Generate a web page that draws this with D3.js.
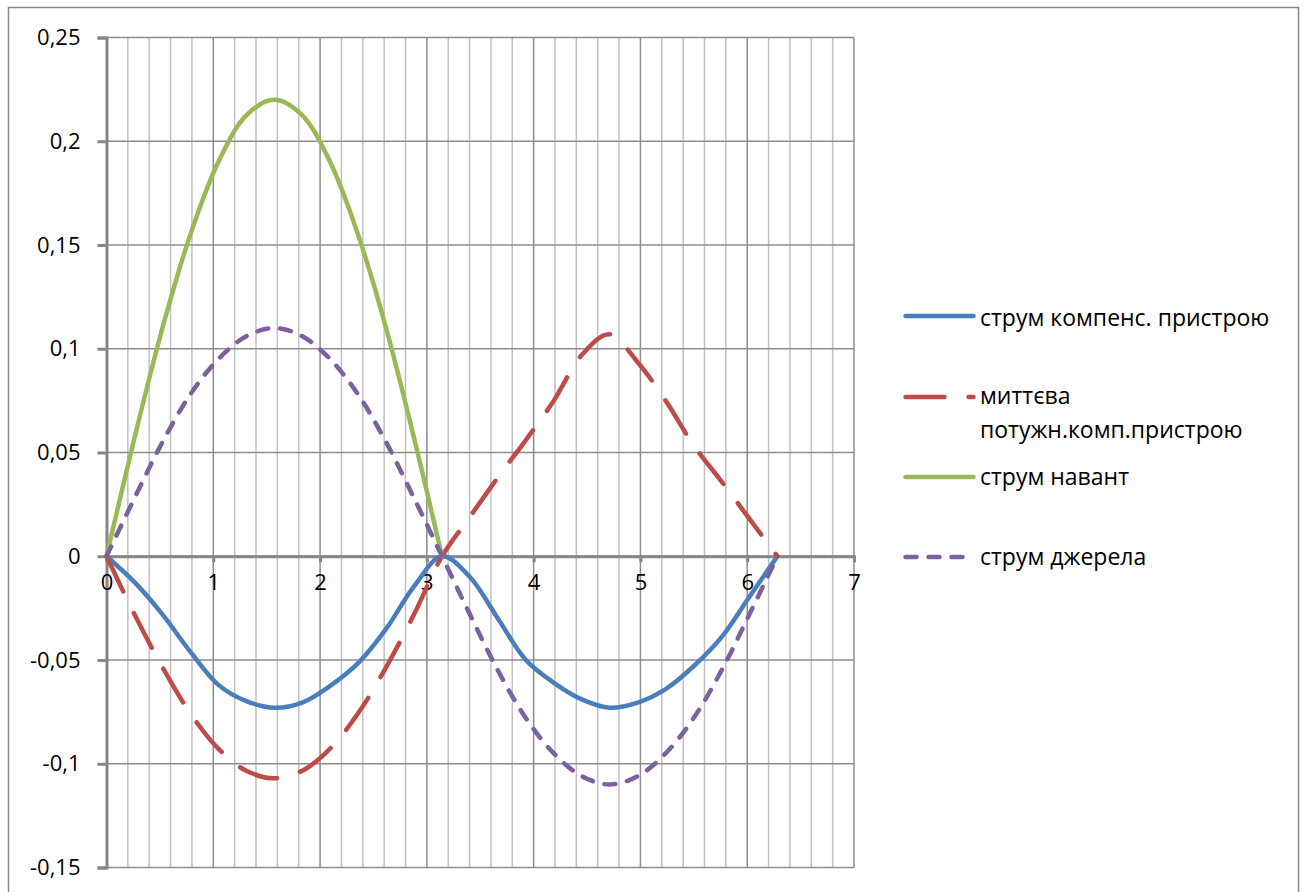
<!DOCTYPE html>
<html>
<head>
<meta charset="utf-8">
<script src="https://cdn.jsdelivr.net/npm/d3@7"></script>
<style>
  html, body { margin: 0; padding: 0; background: #fff; }
  svg { display: block; }
  text { font-family: "Open Sans", "Noto Sans", sans-serif; fill: #000; }
</style>
</head>
<body>
<svg id="chart" width="1306" height="892"></svg>
<script>
// Phase angle samples (rad)
const phase = [0, 0.262, 0.524, 0.785, 1.047, 1.309, 1.571, 1.833, 2.094, 2.356, 2.618, 2.880, 3.142,
               3.403, 3.665, 3.927, 4.189, 4.451, 4.712, 4.974, 5.236, 5.498, 5.760, 6.021, 6.283];

// струм компенс. пристрою
const compCurrent = [0, -0.0125, -0.028, -0.046, -0.062, -0.0698, -0.073, -0.0705, -0.0625, -0.0515, -0.035, -0.0145, 0,
                     -0.010, -0.030, -0.050, -0.061, -0.069, -0.073, -0.0705, -0.064, -0.053, -0.039, -0.0195, 0];
// миттєва потужн.комп.пристрою
const compPower = [0, -0.028, -0.0535, -0.0757, -0.0927, -0.1034, -0.107, -0.1034, -0.0927, -0.0757, -0.0535, -0.028, 0,
                   0.019, 0.038, 0.056, 0.075, 0.097, 0.107, 0.0935, 0.075, 0.0535, 0.036, 0.018, 0];
// струм навант (first half-period only)
const loadCurrent = [0, 0.057, 0.110, 0.155, 0.190, 0.2125, 0.220, 0.2125, 0.190, 0.155, 0.110, 0.057, 0];
// струм джерела
const sourceCurrent = [0, 0.028, 0.055, 0.078, 0.095, 0.106, 0.110, 0.106, 0.095, 0.078, 0.055, 0.028, 0,
                       -0.028, -0.055, -0.078, -0.095, -0.106, -0.110, -0.106, -0.095, -0.078, -0.055, -0.028, 0];

const seriesNames = ["струм компенс. пристрою", "миттєва потужн.комп.пристрою", "струм навант", "струм джерела"];
const xTicks = [0, 1, 2, 3, 4, 5, 6, 7];
const yTicks = [-0.15, -0.1, -0.05, 0, 0.05, 0.1, 0.15, 0.2, 0.25];
const yTickLabels = ["-0,15", "-0,1", "-0,05", "0", "0,05", "0,1", "0,15", "0,2", "0,25"];

const svg = d3.select("#chart");

// outer chart frame
svg.append("rect")
  .attr("x", 8.5).attr("y", 7.5).attr("width", 1290).attr("height", 900)
  .attr("fill", "#fff").attr("stroke", "#8a8a8a").attr("stroke-width", 1.5);

const x = d3.scaleLinear().domain([0, 7]).range([106.5, 854]);
const y = d3.scaleLinear().domain([-0.15, 0.25]).range([867.5, 37.5]);

const grid = svg.append("g");
// minor vertical grid every 0.2
const minorX = d3.range(0, 35).map(i => i * 0.2).filter(v => Math.abs(v - Math.round(v)) > 1e-6);
grid.selectAll("line.minor").data(minorX).join("line")
  .attr("x1", d => x(d)).attr("x2", d => x(d))
  .attr("y1", y(0.25)).attr("y2", y(-0.15))
  .attr("stroke", "#c0c0c0").attr("stroke-width", 1.5);
// major vertical grid
grid.selectAll("line.majorx").data(xTicks.slice(1)).join("line")
  .attr("x1", d => x(d)).attr("x2", d => x(d))
  .attr("y1", y(0.25)).attr("y2", y(-0.15))
  .attr("stroke", "#8c8c8c").attr("stroke-width", 1.5);
// horizontal grid
grid.selectAll("line.majory").data(yTicks).join("line")
  .attr("x1", x(0)).attr("x2", x(7))
  .attr("y1", d => y(d)).attr("y2", d => y(d))
  .attr("stroke", "#8c8c8c").attr("stroke-width", 1.5);

// y axis
const yAxis = d3.axisLeft(y).tickValues(yTicks)
  .tickFormat((d, i) => yTickLabels[i]).tickSize(9).tickPadding(17);
const gy = svg.append("g").attr("transform", `translate(${x(0)},0)`).call(yAxis);
gy.select(".domain").attr("stroke", "#868686").attr("stroke-width", 3);
gy.selectAll(".tick line").attr("stroke", "#868686").attr("stroke-width", 3);
gy.selectAll(".tick text").attr("font-size", 22).attr("font-family", "Open Sans").attr("fill", "#000");

// x axis through zero
const xAxis = d3.axisBottom(x).tickValues(xTicks).tickFormat(d3.format("d")).tickSize(6).tickPadding(12);
const gx = svg.append("g").attr("transform", `translate(0,${y(0)})`).call(xAxis);
gx.select(".domain").attr("stroke", "#868686").attr("stroke-width", 3);
gx.selectAll(".tick line").attr("stroke", "#868686").attr("stroke-width", 3);
gx.selectAll(".tick text").attr("font-size", 22).attr("font-family", "Open Sans").attr("fill", "#000");

const series = [
  { name: seriesNames[0], values: compCurrent, color: "#4a7ebb", dash: null },
  { name: seriesNames[1], values: compPower, color: "#be4b48", dash: "39,24" },
  { name: seriesNames[2], values: loadCurrent, color: "#98b954", dash: null },
  { name: seriesNames[3], values: sourceCurrent, color: "#7d60a0", dash: "11,12" }
];

const line = d3.line().x(d => x(d[0])).y(d => y(d[1])).curve(d3.curveCatmullRom.alpha(0.5));

svg.append("g").selectAll("path").data(series).join("path")
  .attr("d", s => line(s.values.map((v, i) => [phase[i], v])))
  .attr("fill", "none")
  .attr("stroke", s => s.color)
  .attr("stroke-width", 4.5)
  .attr("stroke-linecap", "round")
  .attr("stroke-linejoin", "round")
  .attr("stroke-dasharray", s => s.dash);

// legend
const legendRows = [
  { s: series[0], ly: 316, lines: ["струм компенс. пристрою"], ty: 326 },
  { s: series[1], ly: 397, lines: ["миттєва", "потужн.комп.пристрою"], ty: 404 },
  { s: series[2], ly: 477, lines: ["струм навант"], ty: 485 },
  { s: series[3], ly: 557, lines: ["струм джерела"], ty: 565 }
];
const lg = svg.append("g");
legendRows.forEach(r => {
  lg.append("line")
    .attr("x1", 905.5).attr("x2", 973.5).attr("y1", r.ly).attr("y2", r.ly)
    .attr("stroke", r.s.color).attr("stroke-width", 4.5)
    .attr("stroke-linecap", "round")
    .attr("stroke-dasharray", r.s.dash);
  const t = lg.append("text").attr("x", 980).attr("y", r.ty).attr("font-size", 23);
  r.lines.forEach((ln, i) => {
    t.append("tspan").attr("x", 980).attr("dy", i === 0 ? 0 : 34).text(ln);
  });
});
</script>
</body>
</html>
